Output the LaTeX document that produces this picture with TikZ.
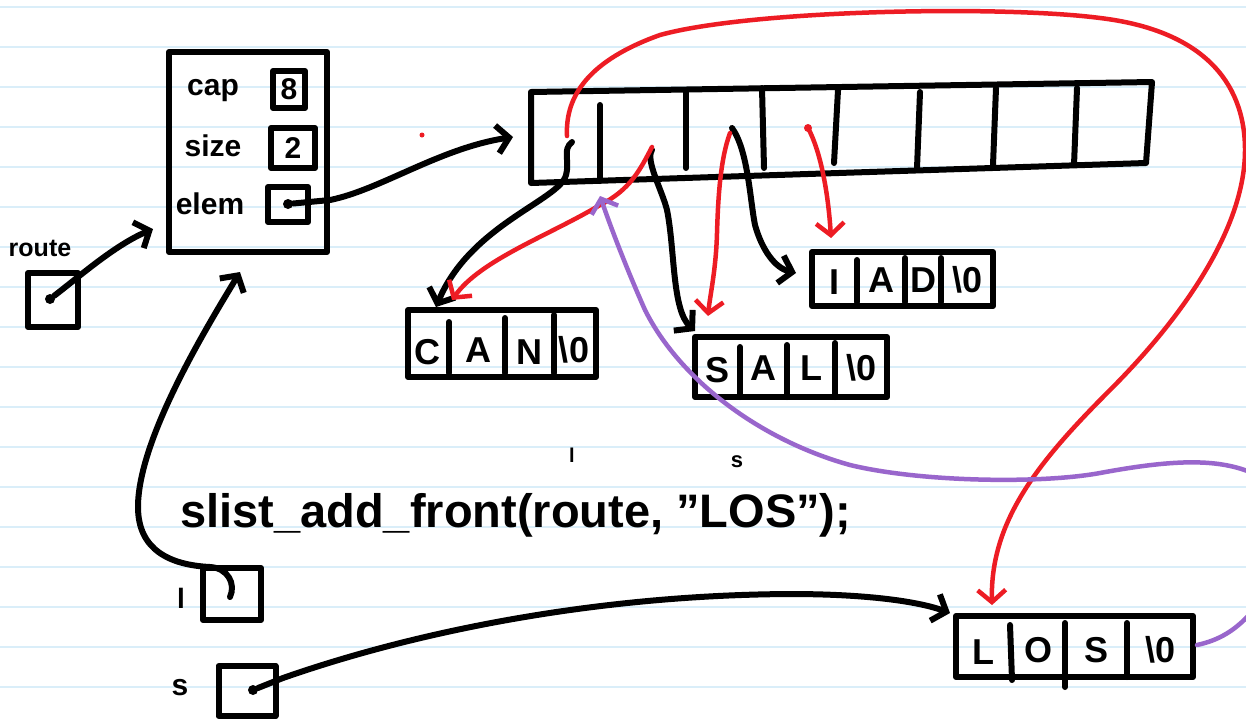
\documentclass[tikz,border=0pt]{standalone}
\usepackage{fontspec}
\setmainfont{Liberation Sans}
\usetikzlibrary{arrows.meta}
\definecolor{penred}{RGB}{237,28,36}
\definecolor{penpurple}{RGB}{153,102,204}
\definecolor{ruleblue}{RGB}{218,238,249}
\newcommand{\fsz}[1]{\fontsize{#1}{#1}\selectfont}
\begin{document}
\begin{tikzpicture}[x=1pt,y=-1pt,
  ink/.style={line width=6pt, line cap=round, line join=round},
  redink/.style={line width=4.5pt, draw=penred, line cap=round, line join=round},
  purpink/.style={line width=4.5pt, draw=penpurple, line cap=round, line join=round},
  arr/.style={-{Straight Barb[length=12pt,width=28pt]}},
  box/.style={draw, line width=6pt, inner sep=0pt, line join=round},
  hand/.style={font=\bfseries\fsz{30}, inner sep=0pt},
  cell/.style={font=\bfseries\fsz{36}, inner sep=0pt},
  dot/.style={fill, circle, inner sep=0pt, minimum size=10pt}
]
\useasboundingbox (0,0) rectangle (1246,721);
\fill[white] (0,0) rectangle (1246,721);
\foreach \k in {0,...,17} {\draw[ruleblue, line width=2.5pt] (0,7+40*\k) -- (1246,7+40*\k);}

% struct
\node[box, minimum width=158pt, minimum height=200pt] (struct) at (248,152) {};
\node[hand] (caplbl) at (213,91) {cap};
\node[hand] (sizelbl) at (213,146) {size};
\node[hand] (elemlbl) at (210,204) {elem};
\node[box, minimum width=32pt, minimum height=37pt, font=\bfseries\fsz{30}] (capbox) at (289,89.5) {8};
\node[box, minimum width=44pt, minimum height=40pt, font=\bfseries\fsz{30}] (sizebox) at (293,148) {2};
\node[box, minimum width=40pt, minimum height=35pt] (elembox) at (288,204.5) {};
\node[dot] (edot) at (288,204) {};

% route
\node[font=\bfseries\fsz{25}, inner sep=0pt] (routelbl) at (40,248) {route};
\node[box, minimum width=50pt, minimum height=54pt] (routebox) at (53,300) {};
\node[dot] (rdot) at (50,299) {};
\coordinate (rtip) at (153,229);
\draw[ink, arr] (rdot) .. controls (80,276) and (115,245) .. (rtip);

% array
\draw[ink] (531,92) -- (1152,82) -- (1146,163) -- (531,183) -- cycle;
\draw[ink] (600,105) -- (600,181);
\draw[ink] (686,92) -- (686,168);
\draw[ink] (762,88) -- (764,168);
\draw[ink] (838,90) -- (834,163);
\draw[ink] (920,92) -- (917,168);
\draw[ink] (996,88) -- (993,165);
\draw[ink] (1077,88) -- (1074,165);

% elem -> array
\coordinate (etip) at (513,137);
\draw[ink, arr] (edot) -- (330,200) .. controls (380,190) and (440,148) .. (etip);
\fill[penred] (422,135) circle (2.5pt);

% CAN
\node[box, minimum width=188pt, minimum height=67pt] (can) at (502,343.5) {};
\draw[ink] (449,322) -- (449,373);
\draw[ink] (505,318) -- (505,373);
\draw[ink] (554,315) -- (554,373);
\node[cell] (can1) at (427,352) {C};
\node[cell] (can2) at (478,350) {A};
\node[cell] (can3) at (529,352) {N};
\node[cell] (can4) at (574,350) {\textbackslash 0};

% IAD
\node[box, minimum width=181pt, minimum height=54pt] (iad) at (902.5,279) {};
\draw[ink] (857,260) -- (857,302);
\draw[ink] (905,258) -- (905,302);
\draw[ink] (941,258) -- (941,302);
\node[cell] (iad1) at (834,282) {I};
\node[cell] (iad2) at (881,280) {A};
\node[cell] (iad3) at (923,280) {D};
\node[cell] (iad4) at (967,280) {\textbackslash 0};

% SAL
\node[box, minimum width=192pt, minimum height=60pt] (sal) at (791,367) {};
\draw[ink] (740,347) -- (740,397);
\draw[ink] (787,345) -- (787,397);
\draw[ink] (835,343) -- (835,397);
\node[cell] (sal1) at (717,370) {S};
\node[cell] (sal2) at (763,368) {A};
\node[cell] (sal3) at (811,368) {L};
\node[cell] (sal4) at (861,368) {\textbackslash 0};

% LOS
\node[box, minimum width=237pt, minimum height=61pt] (los) at (1074.5,646.5) {};
\draw[ink] (1010,625) -- (1012,680);
\draw[ink] (1065,623) -- (1065,687);
\draw[ink] (1127,623) -- (1127,677);
\node[cell] (los1) at (983,652) {L};
\node[cell] (los2) at (1038,650) {O};
\node[cell] (los3) at (1096,650) {S};
\node[cell] (los4) at (1160,650) {\textbackslash 0};

% code line
\node[anchor=base west, font=\bfseries\fsz{47}, inner sep=0pt] (code) at (180,527) {slist\_add\_front(route, "LOS");};
\node[font=\bfseries\fsz{20}, inner sep=0pt] (smalll) at (572,455) {l};
\node[font=\bfseries\fsz{22}, inner sep=0pt] (smalls) at (737,462) {s};

% l and s
\node[font=\bfseries\fsz{28}, inner sep=0pt] (llbl) at (181,598) {l};
\node[box, minimum width=58pt, minimum height=52pt] (lbox) at (232,594) {};
\node[font=\bfseries\fsz{30}, inner sep=0pt] (slbl) at (180,688) {s};
\node[box, minimum width=57pt, minimum height=50pt] (sbox) at (247,691) {};
\node[dot] (sdot) at (253,690) {};

% array cell pointers
\coordinate (c0b) at (572,142);
\coordinate (cantip) at (436,307);
\coordinate (c1r) at (652,147);
\coordinate (canrtip) at (452,300);
\coordinate (c1b) at (652,150);
\coordinate (saltip) at (695,331);
\coordinate (c2b) at (732,128);
\coordinate (iadtip) at (796,273);
\coordinate (c2r) at (730,133);
\coordinate (salrtip) at (708,316);
\coordinate (c3r) at (808,128);
\coordinate (iadrtip) at (831,238);
\coordinate (c0r) at (567,136);
\coordinate (losrtip) at (992,605);
\coordinate (lhook) at (230,597);
\coordinate (sttip) at (240,272);
\coordinate (lostip) at (950,613);
\coordinate (pin) at (1250,472);
\coordinate (ptip) at (600,196);
\coordinate (pedge) at (1250,614);
\coordinate (pout) at (1197,645);

\draw[ink, arr] (c0b) .. controls (562,150) and (570,160) .. (566,175) .. controls (560,200) and (470,225) .. (cantip);
\draw[ink, arr] (c1b) .. controls (645,160) and (662,190) .. (667,210) .. controls (675,250) and (672,310) .. (saltip);
\draw[ink, arr] (c2b) .. controls (748,150) and (750,200) .. (755,225) .. controls (762,250) and (775,268) .. (iadtip);

\draw[redink, arr] (c1r) .. controls (640,170) and (630,190) .. (600,205) .. controls (550,235) and (480,260) .. (canrtip);
\draw[redink, arr] (c2r) .. controls (720,160) and (718,200) .. (717,233) .. controls (716,270) and (710,295) .. (salrtip);
\draw[redink, arr] (c3r) .. controls (820,150) and (828,190) .. (iadrtip);
\draw[redink, arr] (c0r) .. controls (565,95) and (590,60) .. (660,35) .. controls (750,10) and (1000,5) .. (1100,18) .. controls (1200,30) and (1245,80) .. (1245,150) .. controls (1245,230) and (1180,320) .. (1110,390) .. controls (1040,460) and (990,520) .. (losrtip);
\fill[penred] (c3r) circle (4pt);

% l -> struct
\draw[ink, arr] (lhook) .. controls (236,584) and (228,568) .. (210,567) .. controls (170,565) and (138,550) .. (138,507) .. controls (138,440) and (205,330) .. (sttip);
% s -> LOS
\draw[ink, arr] (sdot) -- (283,678) .. controls (420,630) and (600,595) .. (790,594) .. controls (870,594) and (920,602) .. (lostip);

% purple
\draw[purpink, arr] (pin) .. controls (1215,458) and (1170,460) .. (1100,473) .. controls (1040,484) and (920,482) .. (850,465) .. controls (760,440) and (680,380) .. (645,310) .. controls (625,265) and (610,225) .. (ptip);
\draw[purpink] (pout) .. controls (1220,640) and (1235,630) .. (pedge);
\end{tikzpicture}
\end{document}
